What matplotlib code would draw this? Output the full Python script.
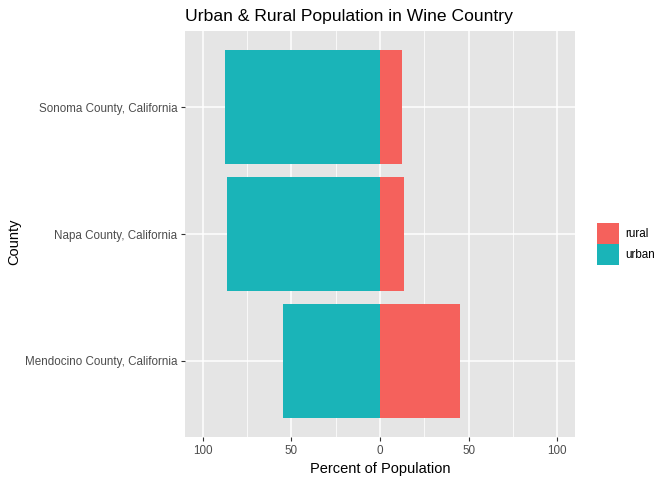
import matplotlib
matplotlib.use("Agg")
import matplotlib.pyplot as plt
from matplotlib.patches import Patch

plt.rcParams["font.family"] = ["Liberation Sans", "DejaVu Sans"]

# Data
counties = ["Mendocino County, California", "Napa County, California", "Sonoma County, California"]
urban = [54.8, 86.4, 87.6]
rural = [45.2, 13.6, 12.4]
ticks = [-100, -50, 0, 50, 100]
tick_labels = ["100", "50", "0", "50", "100"]

RURAL_COL = "#F5615C"
URBAN_COL = "#1AB4B8"
PANEL = "#E5E5E5"
TXT = "#4D4D4D"

W, H = 672, 480
fig = plt.figure(figsize=(W / 100, H / 100), dpi=100)
left, right, top, bottom = 185, 575, 31, 437
ax = fig.add_axes([left / W, 1 - bottom / H, (right - left) / W, (bottom - top) / H])
ax.set_facecolor(PANEL)
for s in ax.spines.values():
    s.set_visible(False)

ypos = list(range(len(counties)))
ax.barh(ypos, [-u for u in urban], height=0.9, color=URBAN_COL, zorder=3)
ax.barh(ypos, rural, height=0.9, color=RURAL_COL, zorder=3)

ax.set_xlim(-110, 110)
ax.set_ylim(-0.6, len(counties) - 0.4)

# grid
for x in [-75, -25, 25, 75]:
    ax.axvline(x, color="white", lw=0.55, zorder=1)
for x in ticks:
    ax.axvline(x, color="white", lw=1.1, zorder=1)
for y in ypos:
    ax.axhline(y, color="white", lw=1.1, zorder=1)

ax.set_xticks(ticks)
ax.set_xticklabels(tick_labels)
ax.set_yticks(ypos)
ax.set_yticklabels(counties)
ax.tick_params(axis="both", colors="#333333", labelcolor=TXT, labelsize=8.4,
               length=3, width=0.8, pad=2.5)

ax.set_xlabel("Percent of Population", fontsize=10.5, color="black", labelpad=4)
fig.text(14 / W, 1 - 242 / H, "County", rotation=90, fontsize=10.5,
         ha="center", va="center", color="black")
ax.set_title("Urban & Rural Population in Wine Country", fontsize=12.6,
             loc="left", x=0, pad=7, color="black")

handles = [Patch(facecolor=RURAL_COL, label="rural"),
           Patch(facecolor=URBAN_COL, label="urban")]
fig.legend(handles=handles, loc="center left", bbox_to_anchor=(597 / W, 1 - 244 / H),
           frameon=False, fontsize=8.4, handlelength=1.9, handleheight=2.3,
           handletextpad=0.55, labelspacing=0.05, borderaxespad=0, borderpad=0)

fig.savefig("out.png", dpi=100)
